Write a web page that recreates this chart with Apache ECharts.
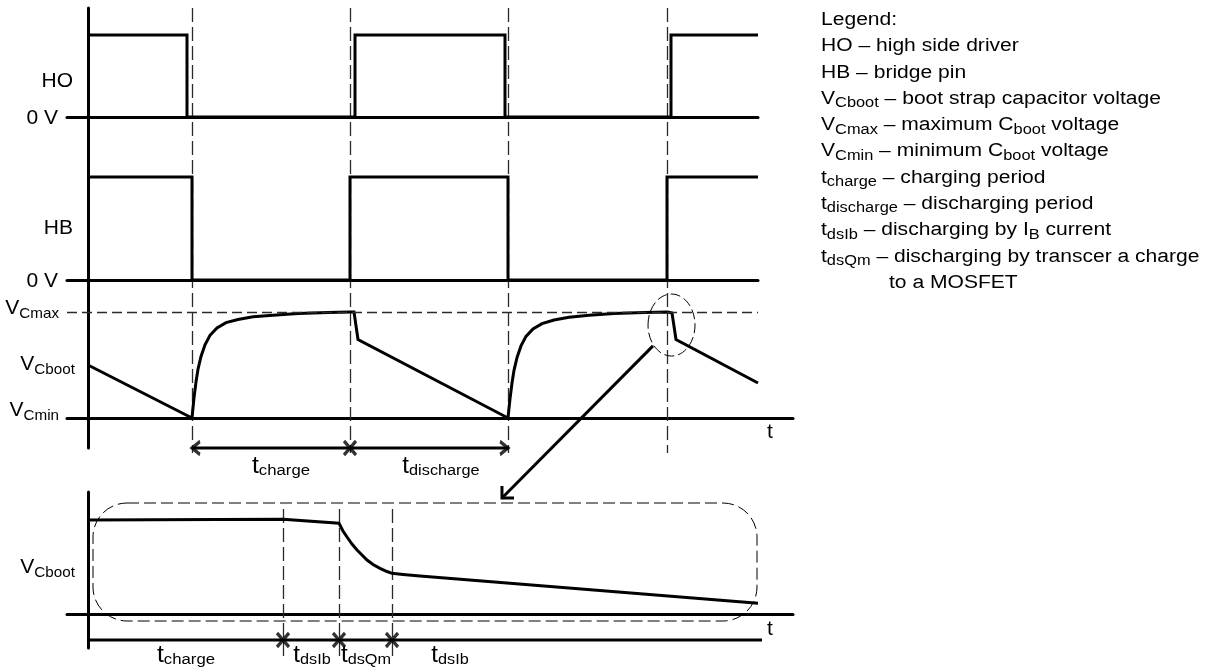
<!DOCTYPE html>
<html>
<head>
<meta charset="utf-8">
<script src="https://cdn.jsdelivr.net/npm/echarts@6/dist/echarts.min.js"></script>
<style>
html, body { margin: 0; padding: 0; background: #fff; }
#chart { width: 1211px; height: 669px; }
</style>
</head>
<body>
<div id="chart"></div>
<script>
// time in drawing units, levels normalised (high = 1, VCmax = 10)
var hoWave = [[0, 1], [9.9, 1], [9.9, 0], [26.7, 0], [26.7, 1], [41.7, 1], [41.7, 0], [58.3, 0], [58.3, 1], [67, 1]]
var hbWave = [[0, 1], [10.4, 1], [10.4, 0], [26.2, 0], [26.2, 1], [42.0, 1], [42.0, 0], [57.9, 0], [57.9, 1], [67, 1]]
var vcWave = [
  [0, 5.0], [10.4, 0],
  [10.6, 1.9], [10.8, 3.4], [11.0, 4.6], [11.3, 5.8], [11.7, 6.9], [12.2, 7.8], [12.9, 8.5],
  [13.8, 9.0], [15.0, 9.3], [16.5, 9.55], [18.5, 9.7], [21.0, 9.85], [24.0, 9.95], [26.2, 10],
  [26.6, 10], [27.0, 7.4], [42.0, 0],
  [42.2, 1.8], [42.4, 3.3], [42.6, 4.5], [42.9, 5.7], [43.3, 6.8], [43.8, 7.7], [44.5, 8.4],
  [45.4, 8.9], [46.6, 9.25], [48.1, 9.5], [50.1, 9.7], [52.6, 9.85], [55.6, 9.95], [58.0, 10],
  [58.4, 9.9], [58.8, 7.4], [67.0, 3.3]
]
var vcMax = 10
var insetWave = [
  [0, 9.4], [19.5, 9.47], [25.1, 9.07], [25.5, 8.3], [25.9, 7.7], [26.4, 7.0], [26.9, 6.4],
  [27.4, 5.9], [27.9, 5.4], [28.5, 4.95], [29.2, 4.57], [29.9, 4.25], [30.4, 4.07], [31.5, 3.95],
  [33.2, 3.8], [67.0, 1.07]
]
var switchTimes = [10.4, 26.2, 42.0, 57.9]
var chargeSpan = [10.4, 26.2, 42.0]
var insetTimes = [19.5, 25.1, 30.4]
var insetEnd = 67.4

var legendRows = [
  '{m|Legend:}',
  '{m|HO – high side driver}',
  '{m|HB – bridge pin}',
  '{m|V}{s|Cboot}{m| – boot strap capacitor voltage}',
  '{m|V}{s|Cmax}{m| – maximum C}{s|boot}{m| voltage}',
  '{m|V}{s|Cmin}{m| – minimum C}{s|boot}{m| voltage}',
  '{m|t}{s|charge}{m| – charging period}',
  '{m|t}{s|discharge}{m| – discharging period}',
  '{m|t}{s|dsIb}{m| – discharging by I}{s|B}{m| current}',
  '{m|t}{s|dsQm}{m| – discharging by transcer a charge}'
]

var F = '"Liberation Sans", Arial, Helvetica, sans-serif'
var chart = echarts.init(document.getElementById('chart'))

function xAx (grid, max, show) {
  return {
    gridIndex: grid, type: 'value', min: -2.1, max: max,
    axisLine: show ? { show: true, onZero: true, lineStyle: { color: '#000', width: 3 } } : { show: false },
    axisTick: { show: false }, axisLabel: { show: false }, splitLine: { show: false }
  }
}
function yAx (grid, min, max, show) {
  return {
    gridIndex: grid, type: 'value', min: min, max: max,
    axisLine: show ? { show: true, onZero: true, lineStyle: { color: '#000', width: 3 } } : { show: false },
    axisTick: { show: false }, axisLabel: { show: false }, splitLine: { show: false }
  }
}
function solid (grid, data) {
  return {
    type: 'line', xAxisIndex: grid, yAxisIndex: grid, data: data, symbol: 'none',
    lineStyle: { color: '#000', width: 3, join: 'miter' }, clip: false, silent: true, z: 4
  }
}
function dashes (grid, times, top, bottom) {
  return {
    type: 'lines', coordinateSystem: 'cartesian2d', xAxisIndex: grid, yAxisIndex: grid,
    data: times.map(function (t) { return { coords: [[t, top], [t, bottom]] } }),
    lineStyle: { color: '#2a2a2a', width: 1.3, type: [14, 5], opacity: 1 },
    symbol: 'none', clip: false, silent: true, z: 3
  }
}
function marks (grid, pts, path, size, offset, bw) {
  return {
    type: 'scatter', xAxisIndex: grid, yAxisIndex: grid, data: pts,
    symbol: path, symbolSize: size, symbolOffset: offset || [0, 0],
    itemStyle: { color: 'none', borderColor: '#000', borderWidth: bw || 3 },
    clip: false, silent: true, z: 5
  }
}
var crossPath = 'path://M0,0L10,11M10,0L0,11'
var arrowLevel = -2.83
var lineLevel = -2.6

var option = {
  animation: false,
  backgroundColor: '#fff',
  grid: [
    { left: 67, top: 8, width: 691, height: 109 },
    { left: 67, top: 117, width: 691, height: 163 },
    { left: 67, top: 280, width: 726, height: 168 },
    { left: 67, top: 8, width: 691, height: 445 },
    { left: 67, top: 492, width: 726, height: 156 }
  ],
  xAxis: [xAx(0, 67, true), xAx(1, 67, true), xAx(2, 70.5, true), xAx(3, 67, false), xAx(4, 70.5, true)],
  yAxis: [yAx(0, 0, 1.329, true), yAx(1, 0, 1.583, true), yAx(2, -2.83, 13.02, true), yAx(3, 0, 1, false), yAx(4, -3.4, 12.2, true)],
  series: [
    solid(0, hoWave),
    solid(1, hbWave),
    Object.assign(solid(2, vcWave), {
      markLine: {
        silent: true, symbol: ['none', 'none'], label: { show: false },
        lineStyle: { color: '#2a2a2a', width: 1.3, type: [10, 5] },
        data: [[{ coord: [-2.1, vcMax] }, { coord: [67, vcMax] }]]
      }
    }),
    dashes(3, switchTimes, 1, 0),
    solid(2, [[chargeSpan[0], arrowLevel], [chargeSpan[2], arrowLevel]]),
    marks(2, [[chargeSpan[1], arrowLevel]], crossPath, [12, 14], null, 3.5),
    marks(2, [[chargeSpan[0], arrowLevel]], 'path://M8,0L0,6L8,12', [8, 13], [4, 0]),
    marks(2, [[chargeSpan[2], arrowLevel]], 'path://M0,0L8,6L0,12', [8, 13], [-4, 0]),
    solid(4, insetWave),
    solid(4, [[0, lineLevel], [insetEnd, lineLevel]]),
    dashes(4, insetTimes, 10.5, -4.6),
    marks(4, insetTimes.map(function (t) { return [t, lineLevel] }), crossPath, [12, 14], null, 3.5)
  ]
}
chart.setOption(option)

var rich = {
  m: { fontSize: 20, lineHeight: 26, fontFamily: F, color: '#000' },
  s: { fontSize: 14.5, lineHeight: 15, verticalAlign: 'bottom', fontFamily: F, color: '#000' },
  tm: { fontSize: 23, lineHeight: 23, fontFamily: F, color: '#000' },
  ts: { fontSize: 15.5, lineHeight: 15, verticalAlign: 'bottom', fontFamily: F, color: '#000' }
}
var legendRich = {
  m: { fontSize: 18, lineHeight: 23, fontFamily: F, color: '#000' },
  s: { fontSize: 14, lineHeight: 14, verticalAlign: 'bottom', fontFamily: F, color: '#000' }
}
function label (x, y, text, align, sx, r) {
  return {
    type: 'text', x: x, y: y, scaleX: sx || 1.05, silent: true, z: 10,
    style: {
      text: text, rich: r || rich, fill: '#000', font: '20px ' + F,
      align: align, textAlign: align, verticalAlign: 'middle', textVerticalAlign: 'middle'
    }
  }
}
function px (grid, t, v) { return chart.convertToPixel({ gridIndex: grid }, [t, v]) }

var g = []
g.push(label(73, 81, '{m|HO}', 'right'))
g.push(label(58, 118, '{m|0 V}', 'right'))
g.push(label(73, 228, '{m|HB}', 'right'))
g.push(label(58, 281, '{m|0 V}', 'right'))
g.push(label(59, 308, '{m|V}{s|Cmax}', 'right'))
g.push(label(75, 364, '{m|V}{s|Cboot}', 'right'))
g.push(label(59, 410, '{m|V}{s|Cmin}', 'right'))
g.push(label(770, 432, '{m|t}', 'center'))
g.push(label(281, 467, '{tm|t}{ts|charge}', 'center', 1.08))
g.push(label(441, 467, '{tm|t}{ts|discharge}', 'center', 1.05))
g.push(label(75, 567, '{m|V}{s|Cboot}', 'right'))
g.push(label(770, 629, '{m|t}', 'center'))
g.push(label(186, 656, '{tm|t}{ts|charge}', 'center', 1.08))
g.push(label(312, 656, '{tm|t}{ts|dsIb}', 'center', 1.05))
g.push(label(366, 656, '{tm|t}{ts|dsQm}', 'center', 1.05))
g.push(label(450, 656, '{tm|t}{ts|dsIb}', 'center', 1.05))

legendRows.forEach(function (row, i) {
  g.push(label(821, 20 + i * 26.3, row, 'left', 1.17, legendRich))
})
g.push(label(889, 20 + 10 * 26.3, '{m|to a MOSFET}', 'left', 1.17, legendRich))

// zoom marker round the switching edge and the arrow down to the detail view
var ec = px(2, 58.35, 8.77)
g.push({
  type: 'ellipse', silent: true, z: 6,
  shape: { cx: ec[0], cy: ec[1], rx: 23.5, ry: 31 },
  style: { fill: 'none', stroke: '#000', lineWidth: 1, lineDash: [10, 4] }
})
var a0 = px(2, 56.5, 6.8)
var a1 = px(4, 41.4, 11.6)
g.push({
  type: 'line', silent: true, z: 6,
  shape: { x1: a0[0], y1: a0[1], x2: a1[0], y2: a1[1] },
  style: { stroke: '#000', lineWidth: 3 }
})
var ang = Math.atan2(a0[1] - a1[1], a0[0] - a1[0])
var hl = 12
g.push({
  type: 'polyline', silent: true, z: 6,
  shape: { points: [
    [a1[0] + hl * Math.cos(ang - Math.PI / 4), a1[1] + hl * Math.sin(ang - Math.PI / 4)],
    [a1[0], a1[1]],
    [a1[0] + hl * Math.cos(ang + Math.PI / 4), a1[1] + hl * Math.sin(ang + Math.PI / 4)]
  ] },
  style: { fill: 'none', stroke: '#000', lineWidth: 3 }
})
var r0 = px(4, 0.5, 11.1)
var r1 = px(4, 66.9, -0.7)
g.push({
  type: 'rect', silent: true, z: 2,
  shape: { x: r0[0], y: r0[1], width: r1[0] - r0[0], height: r1[1] - r0[1], r: 34 },
  style: { fill: 'none', stroke: '#000', lineWidth: 1, lineDash: [12, 5] }
})

chart.setOption({ graphic: g })
window.addEventListener('resize', function () { chart.resize() })
</script>
</body>
</html>
